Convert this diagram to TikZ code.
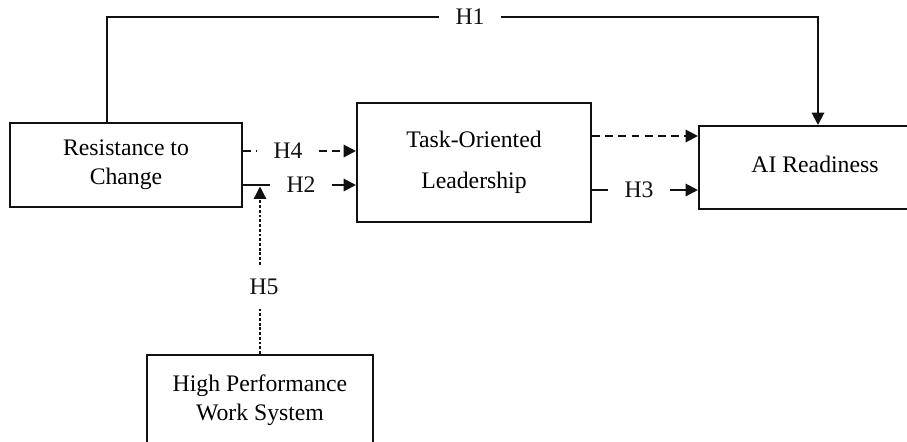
\documentclass[tikz,border=0pt]{standalone}
\usepackage{fontspec}
\setmainfont{Liberation Serif}
\usepackage{xcolor}
\usepackage{tikz}
\usetikzlibrary{arrows.meta}
\definecolor{ink}{HTML}{111111}
\tikzset{
  box/.style={draw=ink, line width=1.2pt, inner sep=0pt, align=center,
    font=\fontsize{13.5}{16.5}\selectfont},
  lbl/.style={text=ink, fill=white, inner xsep=0.32cm, inner ysep=0.28cm,
    font=\fontsize{13.5}{16.5}\selectfont},
  conn/.style={draw=ink, line width=1.2pt},
  arr/.style={conn, -{Triangle[length=7pt,width=7pt]}},
  dashline/.style={dash pattern=on 4.5pt off 3pt},
  dotline/.style={draw=ink, line width=0.7pt, dash pattern=on 1.6pt off 1.1pt}
}

\begin{document}
\begin{tikzpicture}[x=0.02cm, y=-0.02cm]
\useasboundingbox (0,0) rectangle (907,441);
\clip (0,0) rectangle (907,441);

\node[box, minimum width=4.64cm, minimum height=1.68cm] (rc) at (126,165) {Resistance to\\Change};
\node[box, minimum width=4.68cm, minimum height=2.38cm] (tol) at (474,162.5) {Task-Oriented\\[7pt]Leadership};
\node[box, minimum width=4.64cm, minimum height=1.66cm] (ai) at (815,167.5) {\raisebox{0.14cm}{AI Readiness}};
\node[box, minimum width=4.52cm, minimum height=1.8cm] (hp) at (260,400) {High Performance\\Work System};

\node[lbl] (h1) at (470,17) {H1};
\node[lbl] (h4) at (288,151) {H4};
\node[lbl] (h2) at (301,185) {H2};
\node[lbl] (h3) at (639,190) {H3};
\node[lbl] (h5) at (264,287) {H5};
\coordinate (mod) at (hp.north |- h2.west);

% direct path
\draw[conn] ([xshift=-0.38cm]rc.north) |- (h1.west);
\draw[arr] (h1.east) -| ([xshift=0.06cm]ai.north);

% mediation
\draw[conn, dashline] (rc.east |- h4) -- (h4.west);
\draw[arr, dashline] (h4.east) -- (tol.west |- h4);
\draw[conn] (rc.east |- h2) -- (h2.west);
\draw[arr] (h2.east) -- (tol.west |- h2);
\draw[arr, dashline] ([yshift=0.53cm]tol.east) -- ([yshift=0.53cm]tol.east -| ai.west);
\draw[conn] (tol.east |- h3) -- (h3.west);
\draw[arr] (h3.east) -- (ai.west |- h3);

% moderation
\draw[dotline] (hp.north) -- (hp.north |- h5.south);
\draw[dotline, -{Triangle[length=7pt,width=7pt]}] (hp.north |- h5.north) -- ([yshift=-0.03cm]mod);
\end{tikzpicture}
\end{document}
